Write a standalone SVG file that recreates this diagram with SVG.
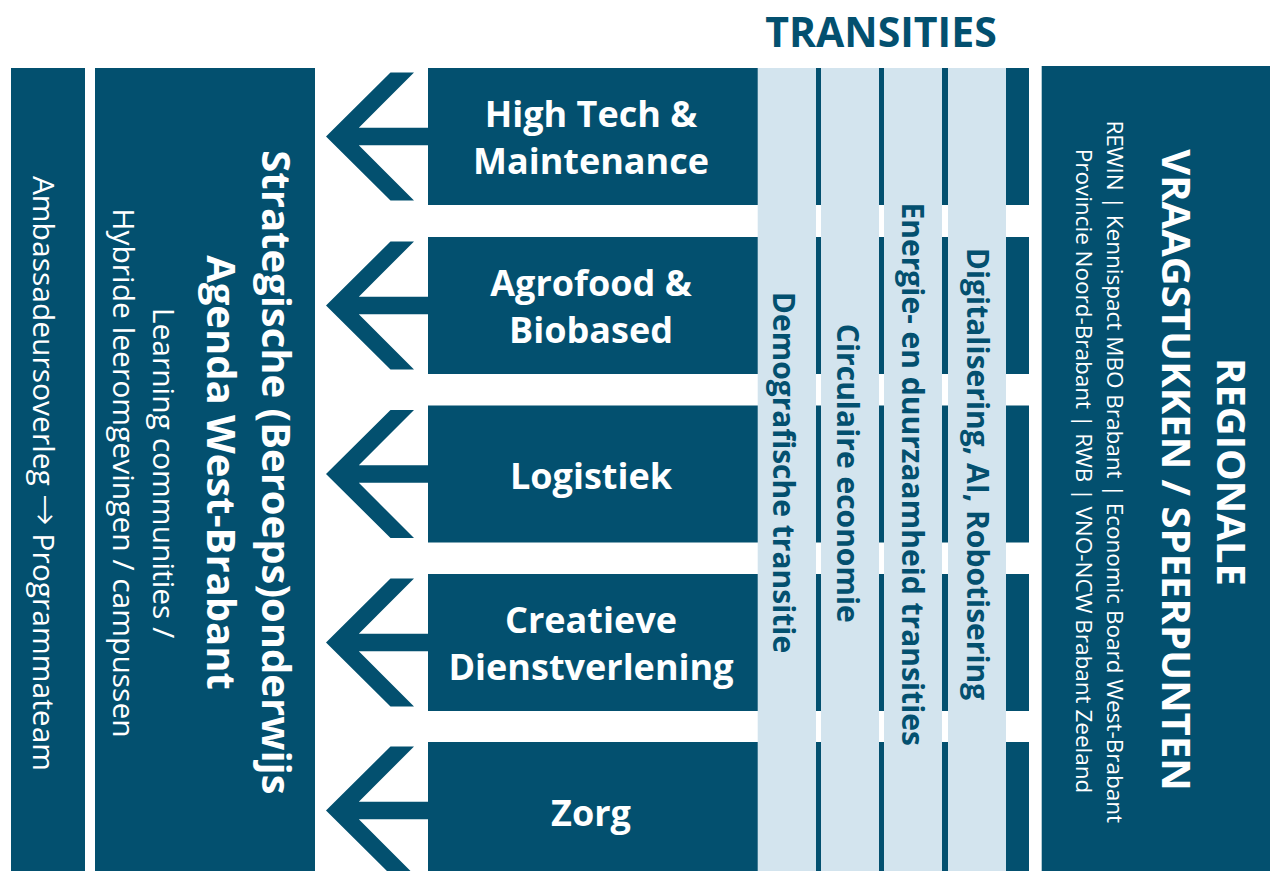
<svg xmlns="http://www.w3.org/2000/svg" width="1270" height="871" viewBox="0 0 1270 871">
<style>
.dk{fill:#03506f}
.lt{fill:#d3e4ee}
.t{font-family:"Open Sans","Liberation Sans",sans-serif}
.bw{font-weight:700;fill:#fff;text-anchor:middle}
.rw{font-weight:400;fill:#fff;text-anchor:middle}
.bd{font-weight:700;fill:#03506f;text-anchor:middle}
.box{font-size:36px}
.col{font-size:30px}
.arr{font-family:"DejaVu Sans",sans-serif;font-weight:300;font-size:38px}
</style>
<defs>
<path id="chev" d="M326,0 L390.5,-64 L414,-64 L358.8,-8.8 L428,-8.8 L428,8.8 L358.8,8.8 L414,64 L390.5,64 Z"/>
</defs>
<rect width="1270" height="871" fill="#fff"/>
<text class="t bd" x="881" y="46.7" font-size="41">TRANSITIES</text>

<g id="ambassadeurs">
<rect class="dk" x="11" y="68" width="74" height="803"/>
<text class="t rw" font-size="30" transform="translate(33,473.5) rotate(90)">Ambassadeursoverleg <tspan class="arr">→</tspan> Programmateam</text>
</g>

<g id="agenda">
<rect class="dk" x="95" y="68" width="220" height="803"/>
<text class="t bw" font-size="40" transform="translate(262,472.5) rotate(90)">Strategische (Beroeps)onderwijs</text>
<text class="t bw" font-size="40" transform="translate(207,472.5) rotate(90)">Agenda West-Brabant</text>
<text class="t rw" font-size="30" font-weight="300" transform="translate(153,473) rotate(90)">Learning communities /</text>
<text class="t rw" font-size="30" font-weight="300" transform="translate(113,473) rotate(90)">Hybride leeromgevingen / campussen</text>
</g>

<g id="row1"><rect class="dk" x="428" y="68" width="601" height="137"/></g>
<g id="row2"><rect class="dk" x="428" y="237" width="601" height="137"/></g>
<g id="row3"><rect class="dk" x="428" y="405.5" width="601" height="137"/></g>
<g id="row4"><rect class="dk" x="428" y="574" width="601" height="137"/></g>
<g id="row5"><rect class="dk" x="428" y="742" width="601" height="137"/></g>

<g id="col-demografisch">
<rect class="lt" x="757.7" y="68" width="58.3" height="803"/>
<text class="t bd col" transform="translate(773.3,472.5) rotate(90)">Demografische transitie</text>
</g>
<g id="col-circulair">
<rect class="lt" x="821" y="68" width="58" height="803"/>
<text class="t bd col" transform="translate(837,473.3) rotate(90)">Circulaire economie</text>
</g>
<g id="col-energie">
<rect class="lt" x="884" y="68" width="58" height="803"/>
<text class="t bd col" transform="translate(902,474.2) rotate(90)">Energie- en duurzaamheid transities</text>
</g>
<g id="col-digitalisering">
<rect class="lt" x="948" y="68" width="58" height="803"/>
<text class="t bd col" transform="translate(967,474) rotate(90)">Digitalisering, AI, Robotisering</text>
</g>

<g id="labels">
<text class="t bw box" x="591" y="126.7">High Tech &amp;</text>
<text class="t bw box" x="591" y="174.3">Maintenance</text>
<text class="t bw box" x="591" y="295.7">Agrofood &amp;</text>
<text class="t bw box" x="591" y="343.3">Biobased</text>
<text class="t bw box" x="591" y="489">Logistiek</text>
<text class="t bw box" x="591" y="632.7">Creatieve</text>
<text class="t bw box" x="591" y="680.3">Dienstverlening</text>
<text class="t bw box" x="591" y="825.5">Zorg</text>
</g>

<g id="regionale">
<rect class="dk" x="1041.7" y="66" width="228.3" height="805"/>
<text class="t bw" font-size="40" transform="translate(1217,472) rotate(90)">REGIONALE</text>
<text class="t bw" font-size="40" transform="translate(1162,470) rotate(90)">VRAAGSTUKKEN / SPEERPUNTEN</text>
<text class="t rw" font-size="22.5" font-weight="300" transform="translate(1107,471.7) rotate(90)">REWIN | Kennispact MBO Brabant | Economic Board West-Brabant</text>
<text class="t rw" font-size="22.5" font-weight="300" transform="translate(1076,471) rotate(90)">Provincie Noord-Brabant | RWB | VNO-NCW Brabant Zeeland</text>
</g>

<g id="connectors" class="dk">
<use href="#chev" transform="translate(0,136.5)"/>
<use href="#chev" transform="translate(0,305.5)"/>
<use href="#chev" transform="translate(0,474)"/>
<use href="#chev" transform="translate(0,642.5)"/>
<use href="#chev" transform="translate(0,810.5)"/>
</g>
</svg>
